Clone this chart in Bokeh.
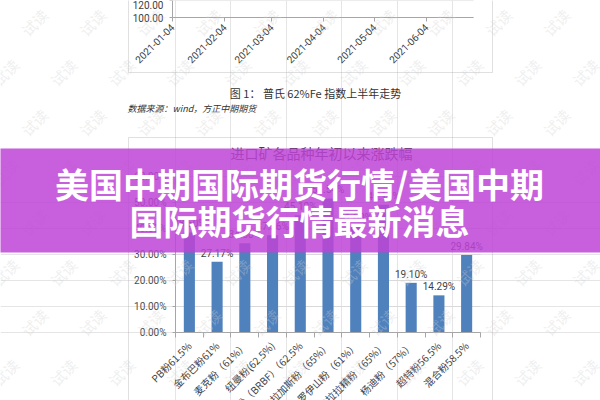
import math
import pandas as pd
from bokeh.plotting import figure
from bokeh.models import (Range1d, FixedTicker, NumeralTickFormatter, DatetimeTickFormatter,
                          ColumnDataSource, LabelSet, Label, BoxAnnotation, LinearAxis, DatetimeAxis)
from bokeh.core.properties import value
from bokeh.embed import file_html
from bokeh.resources import INLINE

# ---------------- data ----------------
top_dates = ["2021-01-04", "2021-02-04", "2021-03-04", "2021-04-04", "2021-05-04", "2021-06-04"]
top_yticks = [100, 120]
top_caption = "图 1： 普氏 62%Fe 指数上半年走势"
top_source = "数据来源：wind，方正中期期货"

chart_title = "进口矿各品种年初以来涨跌幅"
categories = ["PB粉61.5%", "金布巴粉61%", "麦克粉（61%）", "纽曼粉(62.5%)", "巴西混合粉（BRBF）（62.5%",
              "卡拉加斯粉（65%）", "罗伊山粉（61%）", "卡拉拉精粉（65%）", "杨迪粉（57%）", "超特粉56.5%", "混合粉58.5%"]
changes = [0.3850, 0.2717, 0.3430, 0.3736, 0.4510, 0.5154, 0.4100, 0.4915, 0.1910, 0.1429, 0.2984]
y_ticks = [0.0, 0.1, 0.2, 0.3, 0.4, 0.5, 0.6]

banner_lines = ["美国中期国际期货行情/美国中期", "国际期货行情最新消息"]
watermark = "试读"

CJK = "Noto Sans CJK SC"
LAT = "Roboto"
AX = "#a6a6a6"
GRID = "#d9d9d9"
TXT = "#505050"

def ms(d):
    return pd.Timestamp(d).value // 10**6

DAY = 86400000.0

# ---------------- scales (page is 600 x 400 px) ----------------
n = len(categories)
ux = 305.0 / n          # px per category
uy = 156.0 / 0.6        # px per unit of change
t0 = ms(top_dates[0])
t_end = t0 + 179 * DAY
ud = 254.0 / 151.0      # px per day on the upper (Platts) chart
uty = 17.0 / 20.05      # px per index point on the upper chart

p = figure(width=600, height=400,
           x_range=Range1d(-175 / ux, 425 / ux), y_range=Range1d(-68 / uy, 332 / uy),
           x_axis_location=None, y_axis_location=None,
           min_border=0, min_border_left=0, min_border_right=0, min_border_top=0, min_border_bottom=0,
           toolbar_location=None, output_backend="svg")
p.outline_line_color = None
p.background_fill_color = "white"
p.border_fill_color = "white"
p.extra_x_ranges = {"date": Range1d(t0 - 172 / ud * DAY, t0 + 428 / ud * DAY)}
p.extra_y_ranges = {"topy": Range1d(100 - 383 / uty, 100 + 17 / uty)}

# ---------------- upper document fragment (Platts chart bottom) ----------------
p.segment(x0=[t0] * len(top_yticks), x1=[t_end] * len(top_yticks), y0=top_yticks, y1=top_yticks,
          x_range_name="date", y_range_name="topy", line_color=GRID, line_width=1)

fmt = "%Y-%m-%d"
dax = DatetimeAxis(x_range_name="date", y_range_name="topy", fixed_location=top_yticks[0],
                   bounds=(t0, t_end), ticker=FixedTicker(ticks=[ms(d) for d in top_dates]),
                   formatter=DatetimeTickFormatter(days=fmt, months=fmt, years=fmt, hours=fmt,
                                                   hourmin=fmt, minutes=fmt, minsec=fmt, seconds=fmt,
                                                   milliseconds=fmt, microseconds=fmt))
dax.major_label_orientation = math.pi / 4
dax.major_label_text_font = LAT
dax.major_label_text_font_size = "10px"
dax.major_label_text_color = "#404040"
dax.axis_line_color = AX
dax.major_tick_line_color = AX
dax.major_tick_out = 4
dax.major_tick_in = 0
dax.minor_tick_line_color = None
dax.major_label_standoff = 4
p.add_layout(dax, "below")

tay = LinearAxis(x_range_name="date", y_range_name="topy", fixed_location=t0,
                 bounds=(top_yticks[0], 140), ticker=FixedTicker(ticks=top_yticks),
                 formatter=NumeralTickFormatter(format="0.00"))
tay.major_label_text_font = LAT
tay.major_label_text_font_size = "10px"
tay.major_label_text_color = "#404040"
tay.axis_line_color = AX
tay.major_tick_line_color = AX
tay.major_tick_out = 3
tay.major_tick_in = 0
tay.minor_tick_line_color = None
tay.major_label_standoff = 6
p.add_layout(tay, "left")

p.add_layout(BoxAnnotation(left=128, right=492, top=-10, bottom=72,
                           left_units="canvas", right_units="canvas", top_units="canvas", bottom_units="canvas",
                           fill_alpha=0, line_color="#999999", line_width=1))
p.add_layout(Label(x=315, y=92, x_units="canvas", y_units="canvas", text=top_caption,
                   text_align="center", text_baseline="middle", text_font=CJK,
                   text_font_size="11px", text_color="#333333"))
p.add_layout(Label(x=127, y=108, x_units="canvas", y_units="canvas", text=top_source,
                   text_align="left", text_baseline="middle", text_font=CJK, text_font_style="italic",
                   text_font_size="9px", text_color="#333333"))

# ---------------- main chart ----------------
xs = [i + 0.5 for i in range(n)]
src = ColumnDataSource(dict(x=xs, top=changes, cat=categories,
                            lab=["%.2f%%" % (v * 100) for v in changes]))

p.segment(x0=[0] * len(y_ticks), x1=[n] * len(y_ticks), y0=y_ticks, y1=y_ticks,
          line_color=GRID, line_width=1)
p.vbar(x="x", top="top", bottom=0, width=0.4, source=src, fill_color="#4f81bd", line_color=None)

yax = LinearAxis(fixed_location=0, bounds=(y_ticks[0], y_ticks[-1]), ticker=FixedTicker(ticks=y_ticks),
                 formatter=NumeralTickFormatter(format="0.00%"))
yax.major_label_text_font = LAT
yax.major_label_text_font_size = "10px"
yax.major_label_text_color = TXT
yax.axis_line_color = AX
yax.major_tick_line_color = AX
yax.major_tick_out = 3
yax.major_tick_in = 0
yax.minor_tick_line_color = None
yax.major_label_standoff = 6
p.add_layout(yax, "left")

xax = LinearAxis(fixed_location=0, bounds=(0, n),
                 ticker=FixedTicker(ticks=xs, minor_ticks=list(range(n + 1))),
                 major_label_overrides={x: c for x, c in zip(xs, categories)})
xax.major_label_orientation = math.pi / 4
xax.major_label_text_font = CJK
xax.major_label_text_font_size = "10px"
xax.major_label_text_color = "#404040"
xax.axis_line_color = AX
xax.major_tick_line_color = None
xax.major_tick_out = 0
xax.major_tick_in = 0
xax.minor_tick_line_color = AX
xax.minor_tick_out = 5
xax.minor_tick_in = 0
xax.major_label_standoff = 6
p.add_layout(xax, "below")

p.add_layout(LabelSet(x="x", y="top", text="lab", source=src, text_align="center",
                      text_baseline="bottom", y_offset=3, text_font=value(LAT),
                      text_font_size="10px", text_color="#404040"))

p.add_layout(BoxAnnotation(left=128, right=492, top=137, bottom=420,
                           left_units="canvas", right_units="canvas", top_units="canvas", bottom_units="canvas",
                           fill_alpha=0, line_color="#999999", line_width=1))
p.add_layout(Label(x=321, y=152, x_units="canvas", y_units="canvas", text=chart_title,
                   text_align="center", text_baseline="middle", text_font=CJK,
                   text_font_size="14px", text_color="#404040"))

# ---------------- "试读" watermark lattice (page decoration) ----------------
wm_x, wm_y = [], []
for r in range(9):
    yy = 372 - 50 * r
    off = 5 if r % 2 == 0 else 34
    for k in range(11):
        wm_x.append(off + 58 * k)
        wm_y.append(yy)
wm = ColumnDataSource(dict(x=wm_x, y=wm_y, t=[watermark] * len(wm_x)))
p.add_layout(LabelSet(x="x", y="y", text="t", source=wm, x_units="canvas", y_units="canvas",
                      angle=math.pi / 4, text_align="center", text_baseline="middle",
                      text_font=value(CJK), text_font_size="15px", text_color="#cfcfcf",
                      text_alpha=0.35))

# ---------------- banner overlay ----------------
p.add_layout(BoxAnnotation(left=-5, right=605, top=148, bottom=252,
                           left_units="canvas", right_units="canvas", top_units="canvas", bottom_units="canvas",
                           fill_color="#be43d6", fill_alpha=0.85, line_color=None))
for ty, line in zip([183, 220], banner_lines):
    p.add_layout(Label(x=299, y=ty, x_units="canvas", y_units="canvas", text=line,
                       text_align="center", text_baseline="middle", text_font=CJK,
                       text_font_style="bold", text_font_size="34px", text_color="white"))

open("out.html", "w").write(file_html(p, INLINE))
